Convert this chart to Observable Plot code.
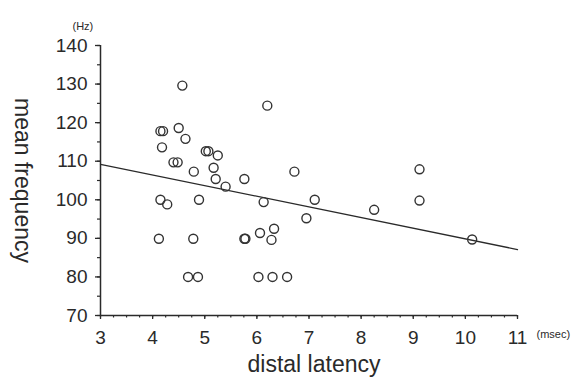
<!DOCTYPE html>
<html>
<head>
<meta charset="utf-8">
<script src="https://cdn.jsdelivr.net/npm/d3@7"></script>
<script src="https://cdn.jsdelivr.net/npm/@observablehq/plot@0.6"></script>
<style>
  html, body { margin: 0; padding: 0; background: #fff; }
  #chart svg { display: block; }
</style>
</head>
<body>
<div id="chart"></div>
<script>
// distal latency (msec)
const latency = [4.57, 6.20, 4.15, 4.20, 4.50, 4.63, 4.18, 5.02, 5.07, 5.25,
  4.40, 4.48, 4.79, 5.17, 5.21, 5.40, 5.76, 6.72, 4.15, 4.28,
  4.89, 6.13, 7.11, 6.95, 4.12, 4.78, 5.76, 5.78, 6.06, 6.33,
  6.28, 4.68, 4.87, 6.03, 6.30, 6.58, 8.25, 9.12, 9.12, 10.13];
// mean frequency (Hz)
const frequency = [129.6, 124.4, 117.8, 117.8, 118.6, 115.8, 113.6, 112.6, 112.6, 111.5,
  109.7, 109.7, 107.3, 108.3, 105.4, 103.4, 105.4, 107.3, 100.0, 98.8,
  100.0, 99.4, 100.0, 95.2, 89.9, 89.9, 89.9, 89.9, 91.4, 92.5,
  89.6, 80, 80, 80, 80, 80, 97.4, 107.9, 99.8, 89.7];
// regression line endpoints
const lineX = [3, 11];
const lineY = [109.2, 87.1];
// ticks
const xTicks = [3, 4, 5, 6, 7, 8, 9, 10, 11];
const xMinor = d3.range(3, 11.001, 0.25);
const yTicks = [70, 80, 90, 100, 110, 120, 130, 140];
const yMinor = d3.range(70, 140.001, 5);

const points = latency.map((x, i) => ({x, y: frequency[i]}));
const line = lineX.map((x, i) => ({x, y: lineY[i]}));

const ink = "#2a2a2a";
const font = "Liberation Sans, Arial, Helvetica, sans-serif";

const chart = Plot.plot({
  width: 581,
  height: 383,
  marginLeft: 100,
  marginRight: 64,
  marginTop: 45,
  marginBottom: 68,
  style: {fontFamily: font, color: ink, background: "#fff"},
  x: {domain: [3, 11], label: null},
  y: {domain: [70, 140], label: null},
  marks: [
    Plot.axisX({ticks: xMinor, tickSize: 2.5, text: null, label: null, stroke: ink, strokeWidth: 1.2}),
    Plot.axisX({ticks: xTicks, tickSize: 4, tickPadding: 11, fontSize: 19, label: null, stroke: ink, strokeWidth: 1.3, fill: ink}),
    Plot.axisY({ticks: yMinor, tickSize: 3, text: null, label: null, stroke: ink, strokeWidth: 1.2}),
    Plot.axisY({ticks: yTicks, tickSize: 5, tickPadding: 8, fontSize: 19, label: null, stroke: ink, strokeWidth: 1.3, fill: ink}),
    Plot.ruleY([70], {stroke: ink, strokeWidth: 1.5}),
    Plot.ruleX([3], {stroke: ink, strokeWidth: 1.5}),
    Plot.line(line, {x: "x", y: "y", stroke: ink, strokeWidth: 1.3}),
    Plot.dot(points, {x: "x", y: "y", r: 4.5, stroke: "#333", strokeWidth: 1.4, fill: "none"}),
    Plot.text(["mean frequency"], {frameAnchor: "left", textAnchor: "middle", dx: -78, dy: 0, rotate: 90, fontSize: 23, fill: ink, text: d => d}),
    Plot.text(["distal latency"], {frameAnchor: "bottom", dx: 5, dy: 56, fontSize: 23, fill: ink, text: d => d}),
    Plot.text(["(Hz)"], {frameAnchor: "top-left", dx: -28, dy: -23, fontSize: 11, fill: ink, text: d => d}),
    Plot.text(["(msec)"], {frameAnchor: "bottom-right", textAnchor: "start", dx: 19, dy: 22, fontSize: 11, fill: ink, text: d => d})
  ]
});
document.getElementById("chart").append(chart);
</script>
</body>
</html>
